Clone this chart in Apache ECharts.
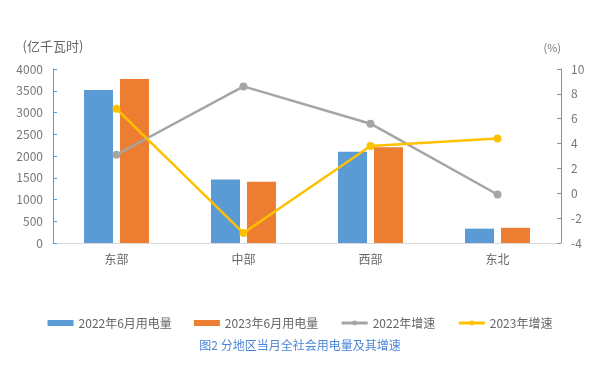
<!DOCTYPE html>
<html><head><meta charset="utf-8">
<script src="https://cdn.jsdelivr.net/npm/echarts@6/dist/echarts.min.js"></script>
<style>html,body{margin:0;padding:0;background:#fff}#c{width:600px;height:368px}</style>
</head><body><div id="c"></div>
<script>
const categories = ['东部', '中部', '西部', '东北'];
const power2022 = [3520, 1460, 2100, 330];
const power2023 = [3770, 1410, 2200, 350];
const growth2022 = [3.1, 8.6, 5.6, -0.1];
const growth2023 = [6.8, -3.2, 3.8, 4.4];
const leftTicks = [0, 4000, 500];
const rightTicks = [-4, 10, 2];
const seriesNames = ['2022年6月用电量', '2023年6月用电量', '2022年增速', '2023年增速'];
const font = '"Noto Sans CJK SC", "Noto Sans", sans-serif';
const chart = echarts.init(document.getElementById('c'), null, {renderer: 'canvas'});
chart.setOption({
  animation: false,
  textStyle: {fontFamily: font},
  title: {
    text: '图2 分地区当月全社会用电量及其增速',
    left: 'center', top: 334,
    textStyle: {fontSize: 12, fontWeight: 'normal', color: '#4A86D8', fontFamily: font}
  },
  legend: {
    left: 'center', top: 312, itemGap: 22, itemWidth: 26, itemHeight: 6,
    textStyle: {fontSize: 12, color: '#666666', fontFamily: font},
    data: [
      {name: seriesNames[0], icon: 'rect'},
      {name: seriesNames[1], icon: 'rect'},
      {name: seriesNames[2], lineStyle: {width: 3}},
      {name: seriesNames[3], lineStyle: {width: 3}}
    ]
  },
  grid: {left: 53, right: 39, top: 69, bottom: 125},
  xAxis: {
    type: 'category', data: categories,
    axisLine: {lineStyle: {color: '#D9D9D9', width: 1}},
    axisTick: {show: false},
    axisLabel: {color: '#666666', fontSize: 12, margin: 10}
  },
  yAxis: [
    {
      type: 'value', min: leftTicks[0], max: leftTicks[1], interval: leftTicks[2],
      name: '(亿千瓦时)', nameLocation: 'end', nameGap: 16,
      nameTextStyle: {color: '#666666', fontSize: 13, align: 'center', padding: [0, 0, 0, 0]},
      axisLine: {show: true, lineStyle: {color: '#5B9BD5'}},
      axisTick: {show: true, inside: true, length: 4, lineStyle: {color: '#5B9BD5'}},
      axisLabel: {color: '#777777', fontSize: 12, margin: 10, formatter: v => String(v)},
      splitLine: {show: false}
    },
    {
      type: 'value', min: rightTicks[0], max: rightTicks[1], interval: rightTicks[2],
      name: '(%)', nameLocation: 'end', nameGap: 16,
      nameTextStyle: {color: '#777777', fontSize: 11, align: 'right'},
      axisLine: {show: true, lineStyle: {color: '#5B9BD5'}},
      axisTick: {show: true, inside: true, length: 4, lineStyle: {color: '#5B9BD5'}},
      axisLabel: {color: '#777777', fontSize: 12, margin: 10},
      splitLine: {show: false}
    }
  ],
  series: [
    {name: seriesNames[0], type: 'bar', data: power2022, barWidth: 29, barGap: '24%',
     itemStyle: {color: '#5B9BD5'}},
    {name: seriesNames[1], type: 'bar', data: power2023, barWidth: 29,
     itemStyle: {color: '#ED7D31'}},
    {name: seriesNames[2], type: 'line', yAxisIndex: 1, data: growth2022,
     symbol: 'circle', symbolSize: 8, lineStyle: {color: '#A5A5A5', width: 2.5},
     itemStyle: {color: '#A5A5A5'}},
    {name: seriesNames[3], type: 'line', yAxisIndex: 1, data: growth2023,
     symbol: 'circle', symbolSize: 8, lineStyle: {color: '#FFC000', width: 2.5},
     itemStyle: {color: '#FFC000'}}
  ]
});
</script></body></html>
